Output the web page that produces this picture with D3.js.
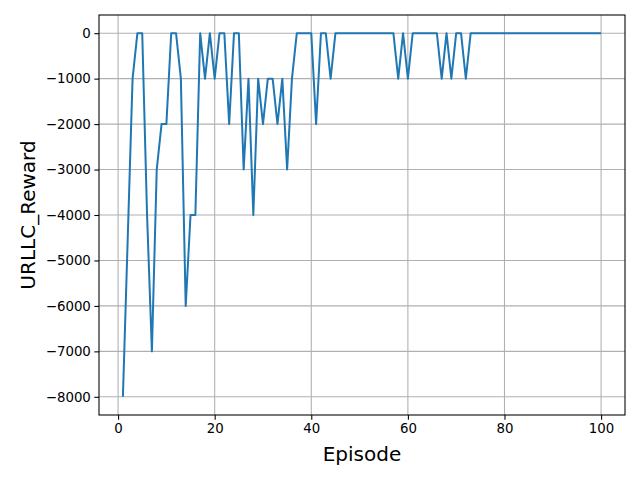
<!DOCTYPE html>
<html>
<head>
<meta charset="utf-8">
<script src="https://cdn.jsdelivr.net/npm/d3@7"></script>
<style>
  html, body { margin: 0; padding: 0; background: #fff; }
  svg { display: block; font-family: "DejaVu Sans", sans-serif; }
</style>
</head>
<body>
<svg id="chart" width="640" height="480"></svg>
<script>
// ---- data ----
const episodes = d3.range(1, 101);
const rewards = [
  -8000, -4500, -1000, 0, 0, -4000, -7000, -3000, -2000, -2000,
  0, 0, -1000, -6000, -4000, -4000, 0, -1000, 0, -1000,
  0, 0, -2000, 0, 0, -3000, -1000, -4000, -1000, -2000,
  -1000, -1000, -2000, -1000, -3000, -1000, 0, 0, 0, 0,
  -2000, 0, 0, -1000, 0, 0, 0, 0, 0, 0,
  0, 0, 0, 0, 0, 0, 0, -1000, 0, -1000,
  0, 0, 0, 0, 0, 0, -1000, 0, -1000, 0,
  0, -1000, 0, 0, 0, 0, 0, 0, 0, 0,
  0, 0, 0, 0, 0, 0, 0, 0, 0, 0,
  0, 0, 0, 0, 0, 0, 0, 0, 0, 0
];
const xTicks = [0, 20, 40, 60, 80, 100];
const yTicks = [0, -1000, -2000, -3000, -4000, -5000, -6000, -7000, -8000];
const xLabel = "Episode";
const yLabel = "URLLC_Reward";

// ---- layout ----
const svg = d3.select("#chart");
const pLeft = 99, pRight = 625, pTop = 15, pBottom = 415;

const xMin = d3.min(episodes), xMax = d3.max(episodes);
const xPad = (xMax - xMin) * 0.05;
const x = d3.scaleLinear().domain([xMin - xPad, xMax + xPad]).range([pLeft, pRight]);
const yLo = d3.min(rewards), yHi = d3.max(rewards);
const yPad = (yHi - yLo) * 0.05;
const y = d3.scaleLinear().domain([yLo - yPad, yHi + yPad]).range([pBottom, pTop]);

const fmt = v => (v < 0 ? "\u2212" + Math.abs(v) : String(v));

// grid
const g = svg.append("g");
g.selectAll(".gx").data(xTicks).enter().append("line")
  .attr("x1", d => x(d)).attr("x2", d => x(d))
  .attr("y1", pTop).attr("y2", pBottom)
  .attr("stroke", "#b0b0b0").attr("stroke-width", 1.07);
g.selectAll(".gy").data(yTicks).enter().append("line")
  .attr("x1", pLeft).attr("x2", pRight)
  .attr("y1", d => y(d)).attr("y2", d => y(d))
  .attr("stroke", "#b0b0b0").attr("stroke-width", 1.07);

// line
const line = d3.line().x((d, i) => x(episodes[i])).y(d => y(d));
svg.append("path").datum(rewards)
  .attr("d", line)
  .attr("fill", "none")
  .attr("stroke", "#1f77b4")
  .attr("stroke-width", 2)
  .attr("stroke-linejoin", "round")
  .attr("stroke-linecap", "butt");

// axes
const xAxis = d3.axisBottom(x).tickValues(xTicks).tickFormat(fmt).tickSize(4.67).tickPadding(3.5);
const yAxis = d3.axisLeft(y).tickValues(yTicks).tickFormat(fmt).tickSize(4.67).tickPadding(3.5);

const gx = svg.append("g").attr("transform", `translate(0,${pBottom})`).call(xAxis);
const gy = svg.append("g").attr("transform", `translate(${pLeft},0)`).call(yAxis);
[gx, gy].forEach(a => {
  a.select(".domain").remove();
  a.selectAll(".tick line").attr("stroke", "#000").attr("stroke-width", 1.07);
  a.selectAll(".tick text").attr("fill", "#000")
    .style("font-size", "13.33px").style("font-family", "DejaVu Sans, sans-serif");
});

// frame
svg.append("rect")
  .attr("x", pLeft).attr("y", pTop)
  .attr("width", pRight - pLeft).attr("height", pBottom - pTop)
  .attr("fill", "none").attr("stroke", "#000").attr("stroke-width", 1.07);

// labels
svg.append("text")
  .attr("x", (pLeft + pRight) / 2).attr("y", 461)
  .attr("text-anchor", "middle")
  .style("font-size", "20px")
  .text(xLabel);
svg.append("text")
  .attr("transform", `translate(35,${(pTop + pBottom) / 2}) rotate(-90)`)
  .attr("text-anchor", "middle")
  .style("font-size", "20px")
  .text(yLabel);
</script>
</body>
</html>
